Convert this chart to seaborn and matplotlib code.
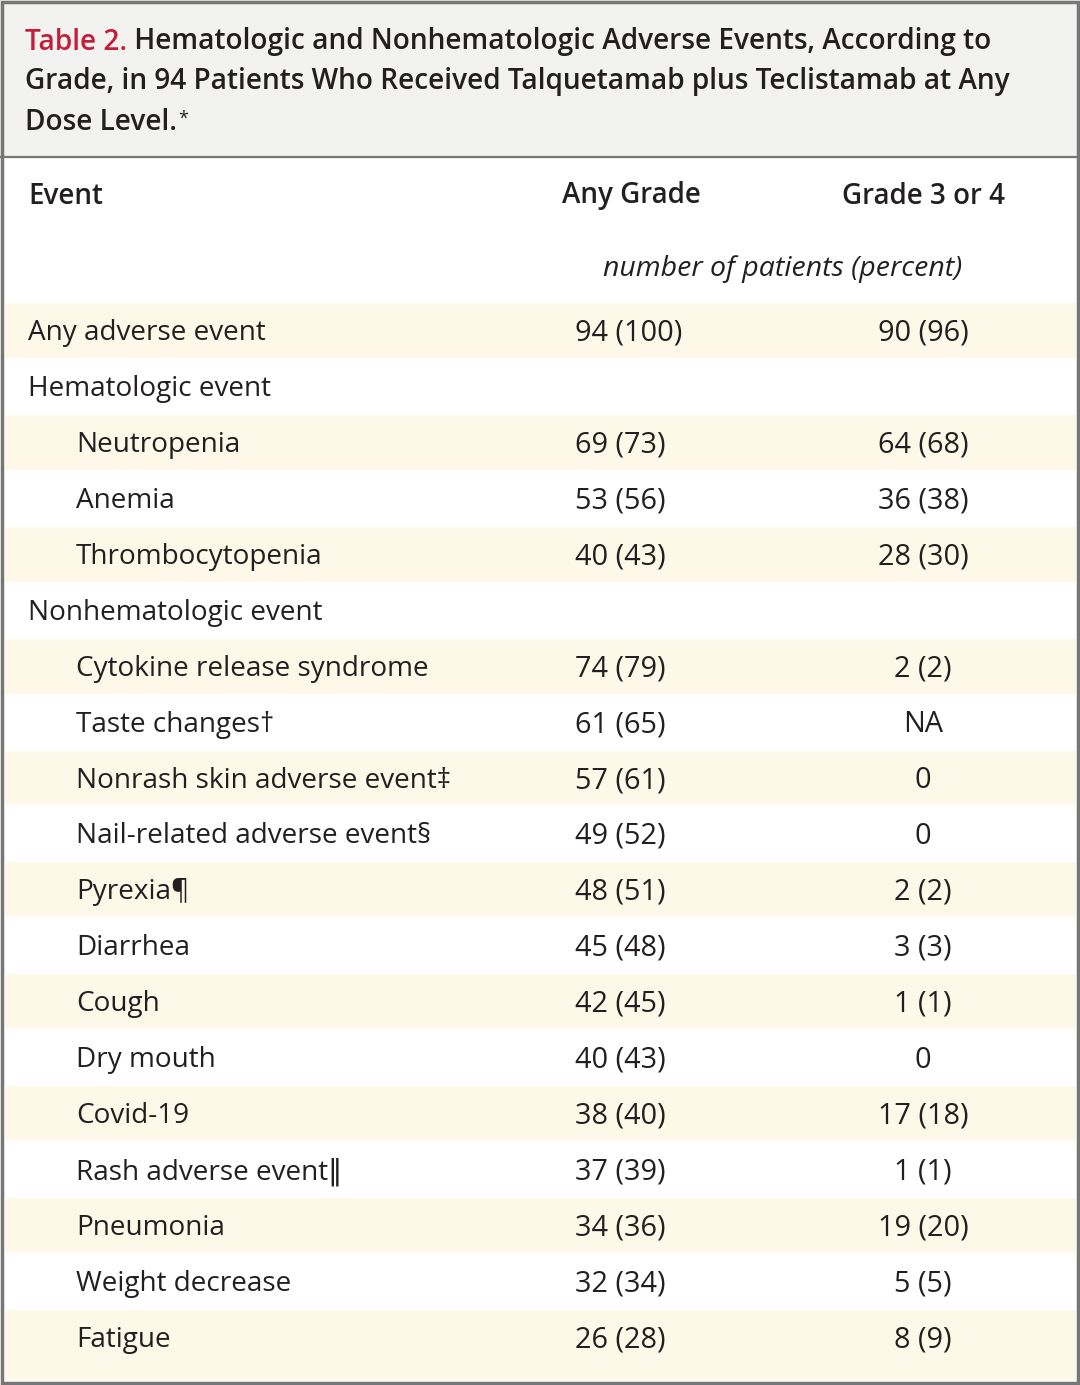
import matplotlib.pyplot as plt
import seaborn as sns

sns.set_theme(style="white")
plt.rcParams['font.family'] = ['Open Sans', 'DejaVu Sans']

# table data
title_tag = "Table 2."
title_lines = [" Hematologic and Nonhematologic Adverse Events, According to",
               "Grade, in 94 Patients Who Received Talquetamab plus Teclistamab at Any",
               "Dose Level."]
col_headers = ["Event", "Any Grade", "Grade 3 or 4"]
unit_label = "number of patients (percent)"

events = ["Any adverse event", "Hematologic event", "Neutropenia", "Anemia",
          "Thrombocytopenia", "Nonhematologic event", "Cytokine release syndrome",
          "Taste changes\u2020", "Nonrash skin adverse event\u2021",
          "Nail-related adverse event\u00a7", "Pyrexia\u00b6", "Diarrhea", "Cough",
          "Dry mouth", "Covid-19", "Rash adverse event\u2016", "Pneumonia",
          "Weight decrease", "Fatigue"]
indent = [0, 0, 1, 1, 1, 0, 1, 1, 1, 1, 1, 1, 1, 1, 1, 1, 1, 1, 1]
any_grade = ["94 (100)", "", "69 (73)", "53 (56)", "40 (43)", "", "74 (79)",
             "61 (65)", "57 (61)", "49 (52)", "48 (51)", "45 (48)", "42 (45)",
             "40 (43)", "38 (40)", "37 (39)", "34 (36)", "32 (34)", "26 (28)"]
grade34 = ["90 (96)", "", "64 (68)", "36 (38)", "28 (30)", "", "2 (2)", "NA", "0",
           "0", "2 (2)", "3 (3)", "1 (1)", "0", "17 (18)", "1 (1)", "19 (20)",
           "5 (5)", "8 (9)"]

txt = "#231f20"
red = "#c41e3a"
cream = "#fdf8e7"
grey_bg = "#f2f2f0"
border = "#767676"

W, H = 1080, 1385
fig = plt.figure(figsize=(W / 100, H / 100), dpi=100)
fig.patch.set_facecolor("white")
ax = fig.add_axes([0, 0, 1, 1])
ax.set_xlim(0, W)
ax.set_ylim(H, 0)
ax.axis("off")

# title band
ax.axhspan(0, 157, color=grey_bg, zorder=0)
ax.axhline(157, color=border, lw=1.6, zorder=3)

# row geometry
y0, dy = 330, 55.94
rows = list(range(len(events)))
ys = [y0 + i * dy for i in rows]
shade = [i for i in rows if i % 2 == 0]
heights = [dy if i < len(events) - 1 else dy + 15 for i in shade]
ax.barh([ys[i] + (h - dy) / 2 for i, h in zip(shade, heights)], W - 8,
        height=heights, left=4, color=cream, zorder=0.5)

# outer border
ax.add_patch(plt.Rectangle((2, 2), W - 4, H - 4, fill=False, ec=border, lw=2.5, zorder=4))

# title
fs_t = 20.2
t1 = ax.text(25, 42, title_tag, color=red, fontsize=fs_t, fontweight="semibold", va="center")
ax.annotate(title_lines[0], xy=(1, 0), xycoords=t1, va="bottom", color=txt,
            fontsize=fs_t, fontweight="semibold")
ax.text(25, 82, title_lines[1], color=txt, fontsize=fs_t, fontweight="semibold", va="center")
t3 = ax.text(25, 122, title_lines[2], color=txt, fontsize=fs_t, fontweight="semibold", va="center")
ax.annotate("*", xy=(1, 1), xycoords=t3, va="top", color=txt, fontsize=13,
            xytext=(1, -2), textcoords="offset points")

# column headers
fs_h = 20
ax.text(28, 196, col_headers[0], color=txt, fontsize=fs_h, fontweight="semibold", va="center")
ax.text(631, 196, col_headers[1], color=txt, fontsize=fs_h, fontweight="semibold",
        va="center", ha="center")
ax.text(923, 196, col_headers[2], color=txt, fontsize=fs_h, fontweight="semibold",
        va="center", ha="center")
ax.text(783, 269, unit_label, color=txt, fontsize=20.5, style="italic",
        va="center", ha="center")

# body
for i in rows:
    x = 28 if indent[i] == 0 else 76
    yy = ys[i] + 3
    ax.text(x, yy, events[i], color=txt, fontsize=20.1, va="center")
    ax.text(575, yy, any_grade[i], color=txt, fontsize=20.8, va="center")
    ax.text(923, yy, grade34[i], color=txt, fontsize=20.8, va="center", ha="center")

fig.savefig("out.png", dpi=100)
